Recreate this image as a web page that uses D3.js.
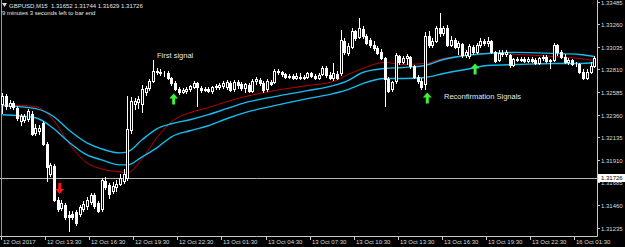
<!DOCTYPE html>
<html>
<head>
<meta charset="utf-8">
<script src="https://cdn.jsdelivr.net/npm/d3@7"></script>
<style>
body { margin: 0; background: #000; }
svg { display: block; font-family: "Liberation Sans", Arial, sans-serif; }
</style>
</head>
<body>
<div id="chart"></div>
<script>
// GBPUSD M15 candles
const opens = [1.3247,1.3255,1.3245,1.3248,1.3243,1.3230,1.3231,1.3232,1.3237,1.3218,1.3220,1.3228,1.3207,1.3177,1.3185,1.3151,1.3143,1.3146,1.3136,1.3137,
1.3139,1.3137,1.3142,1.3145,1.3149,1.3156,1.3148,1.3142,1.3170,1.3166,1.3160,1.3164,1.3167,1.3170,1.3173,1.3221,1.3247,1.3249,1.3247,1.3259,
1.3263,1.3270,1.3280,1.3279,1.3278,1.3278,1.3273,1.3268,1.3262,1.3259,1.3260,1.3262,1.3264,1.3268,1.3263,1.3261,1.3262,1.3260,1.3264,1.3264,
1.3265,1.3264,1.3268,1.3262,1.3269,1.3267,1.3263,1.3266,1.3260,1.3270,1.3271,1.3268,1.3262,1.3269,1.3269,1.3280,1.3279,1.3277,1.3274,1.3275,
1.3273,1.3274,1.3273,1.3274,1.3278,1.3275,1.3273,1.3277,1.3282,1.3276,1.3273,1.3277,1.3278,1.3309,1.3297,1.3303,1.3319,1.3313,1.3321,1.3314,
1.3310,1.3305,1.3302,1.3298,1.3292,1.3272,1.3262,1.3270,1.3294,1.3288,1.3292,1.3293,1.3284,1.3274,1.3270,1.3267,1.3314,1.3305,1.3309,1.3322,
1.3317,1.3322,1.3305,1.3310,1.3303,1.3306,1.3295,1.3294,1.3303,1.3298,1.3305,1.3309,1.3307,1.3309,1.3298,1.3290,1.3297,1.3296,1.3295,1.3285,
1.3291,1.3290,1.3291,1.3289,1.3291,1.3290,1.3287,1.3292,1.3293,1.3289,1.3290,1.3305,1.3298,1.3293,1.3288,1.3290,1.3286,1.3286,1.3279,1.3273,
1.3279,1.3284];
const highs = [1.3258,1.3257,1.3251,1.3250,1.3245,1.3237,1.3237,1.3242,1.3240,1.3227,1.3226,1.3230,1.3209,1.3188,1.3187,1.3154,1.3151,1.3148,1.3140,1.3140,
1.3141,1.3146,1.3150,1.3154,1.3158,1.3158,1.3150,1.3173,1.3174,1.3168,1.3169,1.3171,1.3177,1.3182,1.3255,1.3254,1.3253,1.3255,1.3266,1.3265,
1.3272,1.3290,1.3282,1.3281,1.3280,1.3280,1.3274,1.3270,1.3264,1.3263,1.3264,1.3266,1.3270,1.3269,1.3265,1.3264,1.3264,1.3265,1.3267,1.3268,
1.3270,1.3271,1.3270,1.3271,1.3271,1.3269,1.3268,1.3268,1.3272,1.3274,1.3273,1.3270,1.3272,1.3271,1.3281,1.3281,1.3280,1.3278,1.3277,1.3277,
1.3278,1.3278,1.3276,1.3279,1.3279,1.3277,1.3278,1.3284,1.3284,1.3279,1.3287,1.3280,1.3320,1.3312,1.3307,1.3322,1.3320,1.3332,1.3324,1.3316,
1.3312,1.3309,1.3304,1.3301,1.3293,1.3274,1.3270,1.3297,1.3295,1.3294,1.3296,1.3294,1.3285,1.3276,1.3273,1.3318,1.3319,1.3312,1.3324,1.3337,
1.3324,1.3325,1.3314,1.3312,1.3309,1.3307,1.3300,1.3306,1.3305,1.3307,1.3312,1.3311,1.3313,1.3310,1.3299,1.3300,1.3300,1.3300,1.3296,1.3292,
1.3293,1.3293,1.3293,1.3293,1.3293,1.3292,1.3293,1.3295,1.3295,1.3291,1.3307,1.3306,1.3300,1.3296,1.3292,1.3291,1.3288,1.3287,1.3281,1.3281,
1.3288,1.3294];
const lows = [1.3238,1.3242,1.3243,1.3242,1.3231,1.3226,1.3229,1.3230,1.3216,1.3216,1.3217,1.3206,1.3170,1.3175,1.3150,1.3140,1.3141,1.3132,1.3120,1.3132,
1.3126,1.3135,1.3140,1.3142,1.3147,1.3143,1.3139,1.3140,1.3162,1.3153,1.3158,1.3160,1.3166,1.3168,1.3171,1.3218,1.3242,1.3243,1.3239,1.3256,
1.3261,1.3269,1.3277,1.3276,1.3275,1.3272,1.3266,1.3261,1.3257,1.3258,1.3258,1.3260,1.3263,1.3245,1.3259,1.3260,1.3259,1.3258,1.3262,1.3262,
1.3263,1.3262,1.3260,1.3260,1.3263,1.3261,1.3259,1.3259,1.3259,1.3267,1.3266,1.3259,1.3260,1.3266,1.3268,1.3277,1.3275,1.3273,1.3273,1.3272,
1.3272,1.3272,1.3272,1.3273,1.3274,1.3272,1.3272,1.3276,1.3274,1.3272,1.3271,1.3272,1.3276,1.3296,1.3295,1.3302,1.3310,1.3312,1.3312,1.3306,
1.3303,1.3300,1.3296,1.3291,1.3245,1.3259,1.3260,1.3268,1.3286,1.3287,1.3286,1.3282,1.3273,1.3268,1.3262,1.3262,1.3303,1.3303,1.3308,1.3314,
1.3315,1.3304,1.3304,1.3302,1.3296,1.3293,1.3293,1.3292,1.3296,1.3297,1.3303,1.3305,1.3304,1.3297,1.3288,1.3289,1.3294,1.3294,1.3283,1.3284,
1.3289,1.3289,1.3288,1.3288,1.3288,1.3286,1.3286,1.3290,1.3288,1.3282,1.3289,1.3295,1.3292,1.3287,1.3286,1.3285,1.3284,1.3278,1.3272,1.3272,
1.3278,1.3283];
const closes = [1.3255,1.3245,1.3248,1.3244,1.3233,1.3235,1.3235,1.3240,1.3217,1.3223,1.3223,1.3207,1.3184,1.3186,1.3151,1.3142,1.3148,1.3134,1.3134,1.3134,
1.3128,1.3144,1.3147,1.3151,1.3156,1.3145,1.3140,1.3171,1.3164,1.3157,1.3165,1.3167,1.3173,1.3177,1.3222,1.3250,1.3250,1.3252,1.3262,1.3263,
1.3270,1.3280,1.3279,1.3278,1.3278,1.3273,1.3268,1.3262,1.3259,1.3261,1.3262,1.3265,1.3268,1.3264,1.3261,1.3262,1.3260,1.3264,1.3265,1.3266,
1.3268,1.3269,1.3261,1.3269,1.3266,1.3263,1.3267,1.3260,1.3270,1.3272,1.3268,1.3261,1.3270,1.3267,1.3280,1.3279,1.3277,1.3274,1.3275,1.3273,
1.3275,1.3273,1.3274,1.3278,1.3275,1.3273,1.3276,1.3282,1.3276,1.3273,1.3278,1.3273,1.3310,1.3298,1.3304,1.3319,1.3312,1.3322,1.3314,1.3307,
1.3305,1.3302,1.3297,1.3292,1.3272,1.3260,1.3269,1.3295,1.3288,1.3292,1.3294,1.3284,1.3274,1.3270,1.3264,1.3314,1.3305,1.3309,1.3322,1.3317,
1.3322,1.3305,1.3310,1.3303,1.3307,1.3295,1.3298,1.3304,1.3298,1.3305,1.3309,1.3307,1.3309,1.3298,1.3289,1.3297,1.3296,1.3298,1.3285,1.3291,
1.3290,1.3291,1.3289,1.3291,1.3289,1.3287,1.3292,1.3293,1.3289,1.3290,1.3305,1.3298,1.3293,1.3288,1.3290,1.3286,1.3286,1.3279,1.3273,1.3279,
1.3284,1.3292];

// moving-average band + signal line, sampled at these bars
const maBars  = [0,9,14,18,23,27,32,34,38,42,46,51,56,61,66,74,83,90,94,98,104,109,115,120,126,132,140,150,157,161];
const maUpper = [1.3245,1.3242,1.3234,1.3221,1.3208,1.3202,1.3198,1.3199,1.3211,1.3222,1.3227,1.3231,1.3236,1.3242,1.3248,1.3254,1.3260,1.3265,1.3270,1.3278,1.3282,1.3283,1.3285,1.3291,1.3295,1.3297,1.3298,1.3297,1.3296,1.3294];
const maLower = [1.3236,1.3233,1.3222,1.3209,1.3196,1.3191,1.3186,1.3186,1.3194,1.3203,1.3214,1.3220,1.3225,1.3232,1.3238,1.3245,1.3252,1.3257,1.3261,1.3267,1.3272,1.3272,1.3273,1.3277,1.3281,1.3285,1.3286,1.3287,1.3287,1.3288];
const maRed   = [1.3246,1.3244,1.3230,1.3208,1.3188,1.3182,1.3179,1.3178,1.3192,1.3213,1.3229,1.3238,1.3243,1.3249,1.3254,1.3260,1.3265,1.3269,1.3276,1.3282,1.3288,1.3286,1.3287,1.3292,1.3295,1.3297,1.3296,1.3294,1.3292,1.3290];

// arrows (price = arrow tip)
const sellBars = [16];
const sellTips = [1.3157];
const buyBars = [47, 116, 129];
const buyTips = [1.3257, 1.3258, 1.3287];

const priceTicks = [1.33485,1.33260,1.33035,1.32810,1.32585,1.32360,1.32135,1.31910,1.31685,1.31460,1.31235];
const timeBars = [0,12,24,36,48,60,72,84,96,108,120,132,144,156];
const timeLabels = ["12 Oct 2017","12 Oct 13:30","12 Oct 16:30","12 Oct 19:30","12 Oct 22:30","13 Oct 01:30","13 Oct 04:30",
  "13 Oct 07:30","13 Oct 10:30","13 Oct 13:30","13 Oct 16:30","13 Oct 19:30","13 Oct 22:30","16 Oct 01:30"];
const bidPrice = 1.31726;

var width = 625, height = 247;
var plotRight = 597, plotBottom = 236;

var svg = d3.select("#chart").append("svg")
    .attr("width", width)
    .attr("height", height);

svg.append("rect").attr("width", width).attr("height", height).attr("fill", "#000");

var x = d3.scaleLinear().domain([0, 161]).range([2.4, 594.2]);
var y = d3.scaleLinear().domain([1.31235, 1.33485]).range([227.7, 1.7]);

// left separator
svg.append("line")
    .attr("x1", 1.5).attr("x2", 1.5).attr("y1", 0).attr("y2", plotBottom)
    .attr("stroke", "#9a9a9a");

// bid line
svg.append("line")
    .attr("x1", 0).attr("x2", plotRight)
    .attr("y1", Math.round(y(bidPrice)) + 0.5).attr("y2", Math.round(y(bidPrice)) + 0.5)
    .attr("stroke", "#b4b4b4");

// lines
function maLine(vals) {
    return d3.line()
        .x(function (d, i) { return x(maBars[i]); })
        .y(function (d) { return y(d); })
        .curve(d3.curveMonotoneX)(vals);
}
svg.append("path").attr("d", maLine(maRed)).attr("fill", "none").attr("stroke", "#c00000").attr("stroke-width", 1);
svg.append("path").attr("d", maLine(maUpper)).attr("fill", "none").attr("stroke", "#14bdf0").attr("stroke-width", 1.4);
svg.append("path").attr("d", maLine(maLower)).attr("fill", "none").attr("stroke", "#14bdf0").attr("stroke-width", 1.4);

// candles
var candles = svg.append("g").attr("shape-rendering", "crispEdges");
opens.forEach(function (o, i) {
    var cx = Math.round(x(i));
    var c = closes[i];
    candles.append("line")
        .attr("x1", cx + 0.5).attr("x2", cx + 0.5)
        .attr("y1", Math.round(y(highs[i]))).attr("y2", Math.round(y(lows[i])) + 1)
        .attr("stroke", "#fff");
    var top = Math.round(y(Math.max(o, c)));
    var bot = Math.round(y(Math.min(o, c)));
    candles.append("rect")
        .attr("x", cx - 0.5).attr("y", top + 0.5)
        .attr("width", 2).attr("height", Math.max(0, bot - top))
        .attr("fill", c >= o ? "#000" : "#fff")
        .attr("stroke", "#fff");
});

// arrows
function arrowPath(cx, tip, dir) {
    // dir = 1 for up arrow (tip on top), -1 for down
    var p = [[0, 0], [4.5, 5], [1.5, 5], [1.5, 11], [-1.5, 11], [-1.5, 5], [-4.5, 5]];
    return "M" + p.map(function (q) { return [cx + q[0], tip + dir * q[1]].join(","); }).join("L") + "Z";
}
buyBars.forEach(function (b, i) {
    svg.append("path").attr("d", arrowPath(x(b) - 1.5, y(buyTips[i]), 1)).attr("fill", "#3cf03c");
});
sellBars.forEach(function (b, i) {
    svg.append("path").attr("d", arrowPath(x(b) - 1.5, y(sellTips[i]), -1)).attr("fill", "#ff1414");
});

// annotations
svg.append("text").attr("x", 157).attr("y", 58).attr("fill", "#e6e6e6")
    .style("font-size", "7.5px").text("First signal");
svg.append("text").attr("x", 444).attr("y", 99).attr("fill", "#e6e6e6")
    .style("font-size", "7.5px").text("Reconfirmation Signals");

// header
svg.append("path").attr("d", "M2,3L7,3L4.5,7Z").attr("fill", "#ddd");
svg.append("text").attr("x", 9).attr("y", 8).attr("fill", "#e6e6e6")
    .style("font-size", "6px").attr("xml:space", "preserve")
    .text("GBPUSD,M15  1.31652 1.31744 1.31629 1.31726");
svg.append("text").attr("x", 2).attr("y", 15).attr("fill", "#e6e6e6")
    .style("font-size", "6px").text("9 minutes 3 seconds left to bar end");

// axes frame
svg.append("line").attr("x1", 0).attr("x2", plotRight + 0.5)
    .attr("y1", plotBottom + 0.5).attr("y2", plotBottom + 0.5).attr("stroke", "#c8c8c8");
svg.append("line").attr("x1", plotRight + 0.5).attr("x2", plotRight + 0.5)
    .attr("y1", 0).attr("y2", plotBottom + 0.5).attr("stroke", "#c8c8c8");

// time axis
timeBars.forEach(function (b, i) {
    var tx = Math.round(x(b) - 1.5) + 0.5;
    svg.append("line").attr("x1", tx).attr("x2", tx)
        .attr("y1", plotBottom).attr("y2", plotBottom + 4).attr("stroke", "#c8c8c8");
    svg.append("text").attr("x", tx + 1.5).attr("y", 244)
        .attr("fill", "#dcdcdc").style("font-size", "6px").text(timeLabels[i]);
});

// price axis
priceTicks.forEach(function (p) {
    var ty = Math.round(y(p)) + 0.5;
    svg.append("line").attr("x1", plotRight).attr("x2", plotRight + 3)
        .attr("y1", ty).attr("y2", ty).attr("stroke", "#c8c8c8");
    svg.append("text").attr("x", 601).attr("y", ty + 2.2)
        .attr("fill", "#dcdcdc").style("font-size", "6px").text(p.toFixed(5));
});

// bid label (covers the top of the 1.31685 label, as in the terminal)
var by = Math.round(y(bidPrice));
svg.append("rect").attr("x", plotRight + 1).attr("y", by - 4).attr("width", 27).attr("height", 8).attr("fill", "#fff");
svg.append("text").attr("x", 601).attr("y", by + 2.2).attr("fill", "#000")
    .style("font-size", "6px").text(bidPrice.toFixed(5));
</script>
</body>
</html>
